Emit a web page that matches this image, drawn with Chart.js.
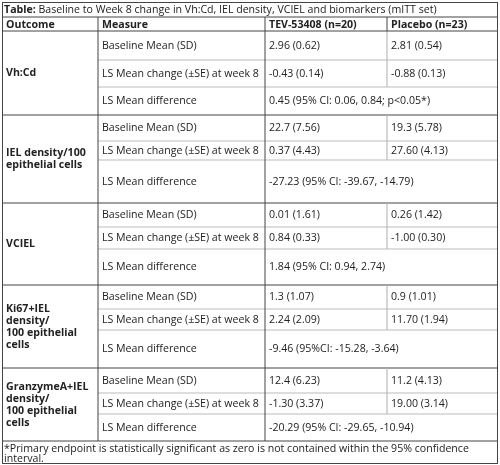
<!DOCTYPE html><html><head><meta charset="utf-8">
<script src="https://cdn.jsdelivr.net/npm/chart.js@4"></script>
<style>html,body{margin:0;padding:0;background:#fff}#w{width:500px;height:465px}</style></head><body><div id="w"><canvas id="c"></canvas></div>
<script>
const titleBold="Table:";
const titleText=" Baseline to Week 8 change in Vh:Cd, IEL density, VCIEL and biomarkers (mITT set)";
const headers=["Outcome","Measure","TEV-53408 (n=20)","Placebo (n=23)"];
const outcomes=[["Vh:Cd"],["IEL density/100","epithelial cells"],["VCIEL"],["Ki67+IEL","density/","100 epithelial","cells"],["GranzymeA+IEL","density/","100 epithelial","cells"]];
const measures=["Baseline Mean (SD)","LS Mean change (±SE) at week 8","LS Mean difference"];
const tevValues=[["2.96 (0.62)","-0.43 (0.14)"],["22.7 (7.56)","0.37 (4.43)"],["0.01 (1.61)","0.84 (0.33)"],["1.3 (1.07)","2.24 (2.09)"],["12.4 (6.23)","-1.30 (3.37)"]];
const placeboValues=[["2.81 (0.54)","-0.88 (0.13)"],["19.3 (5.78)","27.60 (4.13)"],["0.26 (1.42)","-1.00 (0.30)"],["0.9 (1.01)","11.70 (1.94)"],["11.2 (4.13)","19.00 (3.14)"]];
const differences=["0.45 (95% CI: 0.06, 0.84; p<0.05*)","-27.23 (95% CI: -39.67, -14.79)","1.84 (95% CI: 0.94, 2.74)","-9.46 (95%CI: -15.28, -3.64)","-20.29 (95% CI: -29.65, -10.94)"];
const footnote=["*Primary endpoint is statistically significant as zero is not contained within the 95% confidence","interval."];
const colX=[2,98,265,387,498];
const blockRows=[[31,60,87,115],[115,141,160,203],[203,227,249,285],[285,309,330,368],[368,393,414,441]];
const F="'Open Sans', 'Noto Sans', sans-serif";
const tablePlugin={id:'tbl',afterDraw(ch){
 const c=ch.ctx;c.save();c.fillStyle='#fff';c.fillRect(0,0,500,465);
 c.fillStyle='#222';c.textBaseline='middle';
 const fs=10.6;
 c.font='bold '+fs+'px '+F;c.fillText(titleBold,4,10);const tw=c.measureText(titleBold).width;
 c.font=fs+'px '+F;c.fillText(titleText,4+tw,10);
 c.font='bold '+fs+'px '+F;headers.forEach((h,i)=>c.fillText(h,colX[i]+4,24.5));
 const line=(x1,y1,x2,y2,col,w)=>{c.strokeStyle=col;c.lineWidth=w;c.beginPath();c.moveTo(x1,y1);c.lineTo(x2,y2);c.stroke();};
 blockRows.forEach((r,b)=>{
  c.font='bold '+fs+'px '+F;const o=outcomes[b];const mid=(r[0]+r[3])/2;
  o.forEach((t,k)=>c.fillText(t,colX[0]+4,mid+(k-(o.length-1)/2)*12));
  c.font=fs+'px '+F;
  for(let m=0;m<3;m++){const y=(r[m]+r[m+1])/2;c.fillText(measures[m],colX[1]+4,y);
   if(m<2){c.fillText(tevValues[b][m],colX[2]+4,y);c.fillText(placeboValues[b][m],colX[3]+4,y);}
   else c.fillText(differences[b],colX[2]+4,y);}
  line(colX[1],r[1],colX[4],r[1],'#bbb',1.2);line(colX[1],r[2],colX[4],r[2],'#bbb',1.2);
  line(colX[3],r[0],colX[3],r[2],'#bbb',1.2);
  line(colX[0],r[3],colX[4],r[3],'#444',1);
 });
 c.font=fs+'px '+F;c.fillText(footnote[0],4,449);c.fillText(footnote[1],4,459);
 line(colX[0],17,colX[4],17,'#444',1);line(colX[0],31,colX[4],31,'#444',1);
 line(colX[1],17,colX[1],441,'#444',1);line(colX[2],17,colX[2],441,'#444',1);
 line(colX[3],17,colX[3],31,'#444',1);
 c.strokeStyle='#444';c.lineWidth=1;c.strokeRect(2.5,2.5,495,461);
 c.restore();}};
new Chart(document.getElementById('c'),{type:'scatter',data:{datasets:[{data:[]}]},
 options:{responsive:true,maintainAspectRatio:false,animation:false,events:[],layout:{padding:0},
 plugins:{legend:{display:false},tooltip:{enabled:false}},scales:{x:{display:false},y:{display:false}}},plugins:[tablePlugin]});
</script></body></html>
